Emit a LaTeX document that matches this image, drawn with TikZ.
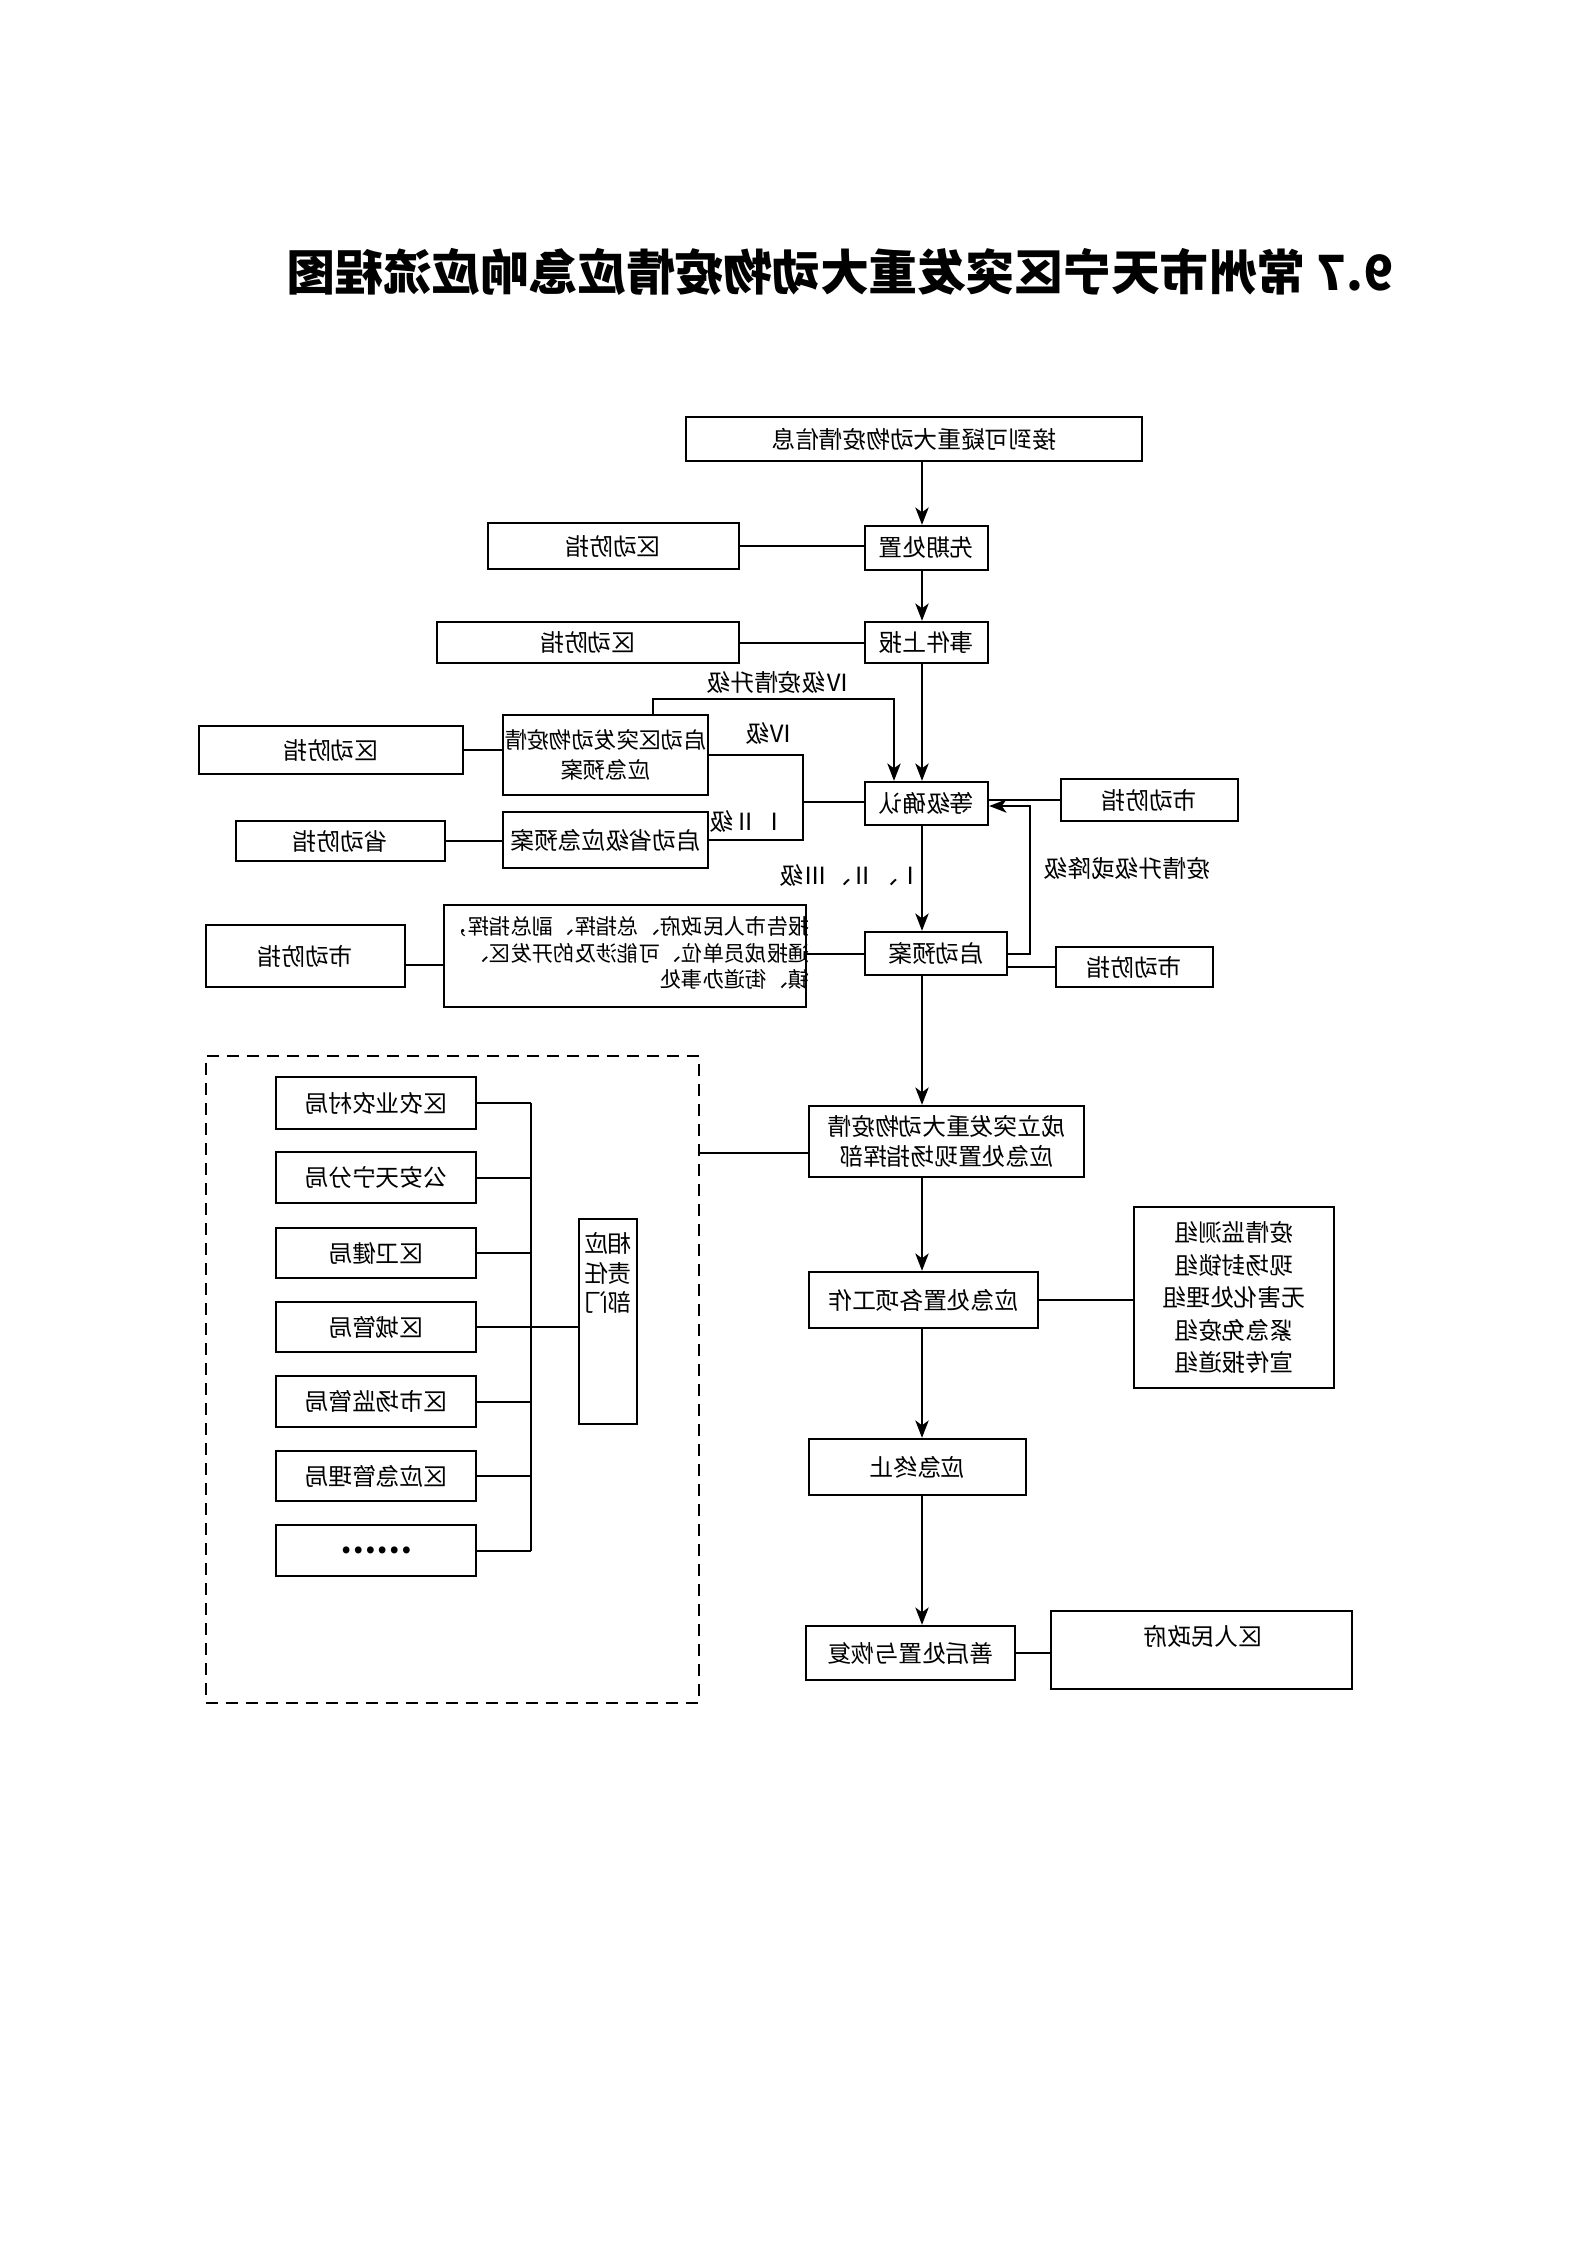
\documentclass[tikz,border=0pt]{standalone}
\usepackage{fontspec}
\usepackage{graphicx}
\setmainfont{Noto Sans CJK SC}
\usetikzlibrary{arrows.meta}
\newcommand{\rf}[1]{\reflectbox{#1}}
\newcommand{\boxfont}{\fontsize{8.9pt}{11.5pt}\selectfont}
\newcommand{\bx}[6]{\node[box, minimum width={(#4-#2)*0.375pt}, minimum height={(#5-#3)*0.375pt}] (#1) at ({(#2+#4)/2},{(#3+#5)/2}) {#6};}
\begin{document}
\begin{tikzpicture}[x=0.375pt,y=-0.375pt,
  box/.style={draw, line width=0.9pt, inner sep=0pt, align=center, font=\boxfont},
  conn/.style={line width=0.75pt},
  arr/.style={conn, -{Stealth[length=6.5pt,width=5pt,inset=1.8pt]}},
  lbl/.style={inner sep=0pt, font=\boxfont}]
\useasboundingbox (0,0) rectangle (1587,2245);

% title
\node[inner sep=0pt, font=\fontsize{18.2pt}{20pt}\selectfont\bfseries] (title) at (840,272) {\rf{9.7 常州市天宁区突发重大动物疫情应急响应流程图}};

% main column
\bx{top}{686}{417}{1142}{461}{\rf{接到可疑重大动物疫情信息}}
\bx{xq}{865}{526}{988}{570}{\rf{先期处置}}
\bx{qd1}{488}{523}{739}{569}{\rf{区动防指}}
\bx{sj}{865}{622}{988}{663}{\rf{事件上报}}
\bx{qd2}{437}{622}{739}{663}{\rf{区动防指}}
\node[box, font=\fontsize{8.4pt}{11.3pt}\selectfont, minimum width={205*0.375pt}, minimum height={80*0.375pt}] (qdya) at (605.5,755)
  {\rf{启动区突发动物疫情}\\\rf{应急预案}};
\bx{qd3}{199}{726}{463}{774}{\rf{区动防指}}
\bx{sjya}{503}{812}{708}{868}{\rf{启动省级应急预案}}
\bx{sd}{236}{821}{445}{861}{\rf{省动防指}}
\bx{djqr}{865}{782}{988}{825}{\rf{等级确认}}
\bx{sR1}{1061}{779}{1238}{821}{\rf{市动防指}}
\bx{qdyan}{865}{932}{1007}{975}{\rf{启动预案}}
\bx{sR2}{1056}{947}{1213}{987}{\rf{市动防指}}
\bx{multi}{444}{905}{806}{1007}{}
\node[inner sep=0pt, anchor=east, align=right, font=\fontsize{8pt}{10pt}\selectfont] (multitext) at (810,953)
  {\rf{报告市人民政府、总指挥、副总指挥，}\\\rf{通报成员单位、可能涉及的开发区、}\\\rf{镇、街道办事处}};
\bx{sL}{206}{925}{405}{987}{\rf{市动防指}}
\bx{zhb}{809}{1106}{1084}{1177}{\rf{成立突发重大动物疫情}\\\rf{应急处置现场指挥部}}
\bx{gx}{809}{1272}{1038}{1328}{\rf{应急处置各项工作}}
\node[box, font=\fontsize{8.9pt}{12.2pt}\selectfont, minimum width={200*0.375pt}, minimum height={181*0.375pt}] (grp) at (1234,1297.5)
  {\rf{疫情监测组}\\\rf{现场封锁组}\\\rf{无害化处理组}\\\rf{紧急免疫组}\\\rf{宣传报道组}};
\bx{zz}{809}{1439}{1026}{1495}{\rf{应急终止}}
\bx{sh}{806}{1626}{1015}{1680}{\rf{善后处置与恢复}}
\bx{qrm}{1051}{1611}{1352}{1689}{}
\node[lbl] (qrmtext) at (1203,1636) {\rf{区人民政府}};

% dashed group
\node[draw, dashed, line width=1pt, dash pattern=on 4.5pt off 3pt, inner sep=0pt,
  minimum width={493*0.375pt}, minimum height={647*0.375pt}] (dash) at (452.5,1379.5) {};
\bx{d1}{276}{1077}{476}{1129}{\rf{区农业农村局}}
\bx{d2}{276}{1152}{476}{1203}{\rf{公安天宁分局}}
\bx{d3}{276}{1228}{476}{1278}{\rf{区卫健局}}
\bx{d4}{276}{1302}{476}{1352}{\rf{区城管局}}
\bx{d5}{276}{1376}{476}{1427}{\rf{区市场监管局}}
\bx{d6}{276}{1451}{476}{1501}{\rf{区应急管理局}}
\bx{d7}{276}{1525}{476}{1576}{\fontsize{12pt}{12pt}\selectfont\textbf{……}}
\bx{xy}{579}{1219}{637}{1424}{}
\node[inner sep=0pt, align=center, font=\fontsize{8.9pt}{11.2pt}\selectfont] (xytext) at (608,1273) {\rf{相应}\\\rf{责任}\\\rf{部门}};

% labels
\node[lbl] (lb1) at (778,682) {\rf{Ⅳ级疫情升级}};
\node[lbl] (lb2) at (769,733) {\rf{Ⅳ级}};
\node[lbl] (lb3) at (748,821) {\rf{Ⅰ Ⅱ级}};
\node[lbl] (lb4) at (851,875) {\rf{Ⅰ、Ⅱ、Ⅲ级}};
\node[lbl] (lb5) at (1127,868) {\rf{疫情升级或降级}};

% coordinates
\coordinate (mx) at (922,0);
\coordinate (lpL) at (653,699);
\coordinate (lpR) at (894,699);
\coordinate (br) at (803,802);
\coordinate (fbtop) at (1030,806);
\coordinate (bus) at (531,0);
\coordinate (zl) at (0,1153);
\coordinate (sll) at (0,965);

% main arrows
\draw[arr] (top.south -| mx) -- (xq.north -| mx);
\draw[arr] (xq.south -| mx) -- (sj.north -| mx);
\draw[arr] (sj.south -| mx) -- (djqr.north -| mx);
\draw[arr] (djqr.south -| mx) -- (qdyan.north -| mx);
\draw[arr] (qdyan.south -| mx) -- (zhb.north -| mx);
\draw[arr] (zhb.south -| mx) -- (gx.north -| mx);
\draw[arr] (gx.south -| mx) -- (zz.north -| mx);
\draw[arr] (zz.south -| mx) -- (sh.north -| mx);

% side links
\draw[conn] (qd1.east) -- (qd1.east -| xq.west);
\draw[conn] (qd2.east) -- (qd2.east -| sj.west);
\draw[conn] (qd3.east) -- (qd3.east -| qdya.west);
\draw[conn] (sd.east) -- (sd.east -| sjya.west);
\draw[arr] (qdya.north -| lpL) -- (lpL) -- (lpR) -- (djqr.north -| lpR);
\draw[conn] (qdya.east) -| (br) |- (sjya.east);
\draw[conn] (br) -- (br -| djqr.west);
\draw[conn] (sR1.west) -- (sR1.west -| djqr.east);
\draw[arr] (qdyan.east) -| (fbtop) -- (fbtop -| djqr.east);
\draw[conn] (qdyan.east |- sR2.west) -- (sR2.west);
\draw[conn] (multi.east |- qdyan.west) -- (qdyan.west);
\draw[conn] (sL.east |- sll) -- (multi.west |- sll);
\draw[conn] (dash.east |- zl) -- (zhb.west |- zl);
\draw[conn] (gx.east) -- (gx.east -| grp.west);
\draw[conn] (sh.east) -- (sh.east -| qrm.west);

% department bus
\draw[conn] (d1.east -| bus) -- (d7.east -| bus);
\foreach \d in {d1,d2,d3,d4,d5,d6,d7} \draw[conn] (\d.east) -- (\d.east -| bus);
\draw[conn] (d4.east -| bus) -- (d4.east -| xy.west);
\end{tikzpicture}
\end{document}
